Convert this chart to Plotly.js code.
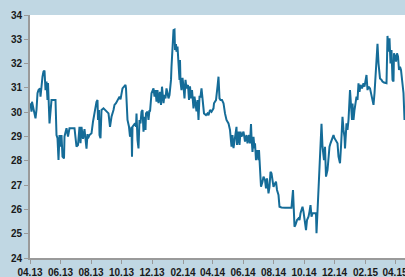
<!DOCTYPE html>
<html>
<head>
<meta charset="utf-8">
<script src="https://cdn.plot.ly/plotly-3.0.1.min.js"></script>
<style>
html,body{margin:0;padding:0;background:#c0d7e3;overflow:hidden;}
#chart{width:405px;height:277px;}
</style>
</head>
<body>
<div id="chart"></div>
<script>
const dates = [
"2013-04-02","2013-04-04","2013-04-05","2013-04-09","2013-04-12","2013-04-14","2013-04-16","2013-04-18","2013-04-21","2013-04-22",
"2013-04-24","2013-04-26","2013-04-28","2013-04-30","2013-05-02","2013-05-04","2013-05-06","2013-05-07","2013-05-09","2013-05-10",
"2013-05-12","2013-05-14","2013-05-22","2013-05-23","2013-05-24","2013-05-26","2013-05-28","2013-05-30","2013-06-01","2013-06-03",
"2013-06-05","2013-06-08","2013-06-09","2013-06-13","2013-06-16","2013-06-19","2013-06-29","2013-07-03","2013-07-06","2013-07-09",
"2013-07-11","2013-07-13","2013-07-16","2013-07-19","2013-07-23","2013-07-25","2013-07-26","2013-07-29","2013-08-02","2013-08-05",
"2013-08-08","2013-08-12","2013-08-14","2013-08-15","2013-08-17","2013-08-18","2013-08-20","2013-08-22","2013-08-26","2013-09-01",
"2013-09-05","2013-09-08","2013-09-11","2013-09-15","2013-09-17","2013-09-20","2013-09-23","2013-09-25","2013-09-27","2013-09-29",
"2013-10-01","2013-10-03","2013-10-06","2013-10-09","2013-10-10","2013-10-11","2013-10-13","2013-10-16","2013-10-18","2013-10-21",
"2013-10-22","2013-10-23","2013-10-25","2013-10-28","2013-10-30","2013-10-31","2013-11-02","2013-11-04","2013-11-06","2013-11-08",
"2013-11-10","2013-11-12","2013-11-14","2013-11-16","2013-11-18","2013-11-19","2013-11-22","2013-11-24","2013-11-26","2013-11-27",
"2013-11-30","2013-12-04","2013-12-06","2013-12-08","2013-12-10","2013-12-12","2013-12-14","2013-12-17","2013-12-19","2013-12-21",
"2013-12-24","2013-12-26","2013-12-28","2013-12-30","2014-01-01","2014-01-03","2014-01-05","2014-01-07","2014-01-08","2014-01-09",
"2014-01-11","2014-01-13","2014-01-15","2014-01-16","2014-01-18","2014-01-19","2014-01-21","2014-01-23","2014-01-25","2014-01-26",
"2014-01-27","2014-01-29","2014-01-31","2014-02-02","2014-02-04","2014-02-06","2014-02-08","2014-02-11","2014-02-13","2014-02-15",
"2014-02-17","2014-02-19","2014-02-22","2014-02-24","2014-02-26","2014-02-28","2014-03-02","2014-03-04","2014-03-06","2014-03-08",
"2014-03-10","2014-03-12","2014-03-15","2014-03-19","2014-03-22","2014-03-24","2014-03-27","2014-03-30","2014-04-03","2014-04-04",
"2014-04-06","2014-04-08","2014-04-11","2014-04-13","2014-04-15","2014-04-17","2014-04-20","2014-04-23","2014-04-26","2014-04-29",
"2014-05-03","2014-05-05","2014-05-06","2014-05-09","2014-05-11","2014-05-13","2014-05-16","2014-05-19","2014-05-20","2014-05-23",
"2014-05-25","2014-05-27","2014-05-29","2014-06-02","2014-06-05","2014-06-08","2014-06-10","2014-06-13","2014-06-15","2014-06-17",
"2014-06-18","2014-06-20","2014-06-22","2014-06-24","2014-06-25","2014-06-27","2014-06-29","2014-07-02","2014-07-03","2014-07-05",
"2014-07-07","2014-07-10","2014-07-12","2014-07-15","2014-07-17","2014-07-19","2014-07-22","2014-07-24","2014-07-26","2014-07-28",
"2014-07-30","2014-08-01","2014-08-04","2014-08-06","2014-08-08","2014-08-11","2014-08-13","2014-08-17","2014-08-24","2014-08-31",
"2014-09-06","2014-09-09","2014-09-10","2014-09-12","2014-09-14","2014-09-17","2014-09-20","2014-09-22","2014-09-24","2014-09-26",
"2014-09-28","2014-09-30","2014-10-03","2014-10-05","2014-10-07","2014-10-10","2014-10-12","2014-10-14","2014-10-16","2014-10-18",
"2014-10-20","2014-10-23","2014-10-25","2014-10-26","2014-10-28","2014-10-30","2014-11-02","2014-11-05","2014-11-07","2014-11-10",
"2014-11-12","2014-11-14","2014-11-17","2014-11-19","2014-11-21","2014-11-23","2014-11-26","2014-11-29","2014-12-01","2014-12-03",
"2014-12-05","2014-12-07","2014-12-09","2014-12-12","2014-12-14","2014-12-16","2014-12-17","2014-12-19","2014-12-21","2014-12-22",
"2014-12-24","2014-12-25","2014-12-27","2014-12-29","2015-01-01","2015-01-03","2015-01-05","2015-01-06","2015-01-08","2015-01-10",
"2015-01-12","2015-01-14","2015-01-16","2015-01-18","2015-01-20","2015-01-22","2015-01-25","2015-01-28","2015-01-30","2015-02-01",
"2015-02-03","2015-02-05","2015-02-07","2015-02-10","2015-02-12","2015-02-14","2015-02-17","2015-02-19","2015-02-21","2015-02-23",
"2015-02-25","2015-02-27","2015-03-01","2015-03-02","2015-03-05","2015-03-07","2015-03-10","2015-03-13","2015-03-15","2015-03-17",
"2015-03-19","2015-03-21","2015-03-23","2015-03-25","2015-03-27","2015-03-29","2015-03-30","2015-04-01","2015-04-03","2015-04-05",
"2015-04-07","2015-04-09","2015-04-11","2015-04-13","2015-04-15","2015-04-16","2015-04-18","2015-04-20"
];
const values = [
30.37,30.02,30.43,30.09,29.75,30.10,30.78,30.91,30.98,30.64,
31.19,31.46,31.67,31.71,30.91,31.26,30.50,31.20,30.09,29.54,
30.02,30.50,30.50,29.68,29.06,28.93,28.03,29.06,28.58,29.06,
28.17,28.10,29.00,29.34,29.00,29.34,29.34,28.58,28.65,29.40,
28.72,29.40,28.90,29.30,28.50,29.10,28.93,29.06,29.13,29.61,
30.02,30.43,30.50,29.68,30.09,29.06,28.93,30.09,30.16,30.02,
29.95,29.40,29.81,30.09,30.30,30.37,30.50,30.57,30.64,30.53,
30.71,30.98,31.05,31.12,30.98,30.23,29.68,29.40,28.99,29.40,
28.17,29.40,29.47,29.54,29.40,29.95,28.86,28.51,29.68,29.54,
30.02,30.09,29.20,29.81,29.27,29.95,30.02,29.68,30.09,30.02,
30.78,30.98,30.64,30.91,30.43,30.91,30.37,30.84,30.30,31.05,
30.37,30.71,30.57,30.98,30.78,30.57,30.71,31.12,31.33,31.87,
32.97,33.38,33.40,32.56,32.80,32.49,32.70,32.15,31.33,32.15,
31.26,30.91,31.41,31.06,30.57,31.33,30.98,31.12,30.50,31.06,
30.57,30.91,30.16,30.64,30.37,30.03,30.50,29.68,30.64,30.64,
30.98,30.50,29.95,29.88,29.95,29.88,30.09,30.02,30.16,30.37,
30.43,30.50,31.05,31.46,30.57,30.50,30.50,30.37,29.95,29.68,
29.54,29.40,29.27,28.58,29.06,28.52,29.06,29.40,28.65,29.20,
28.65,29.20,29.00,29.20,28.79,29.06,28.72,29.06,28.72,29.51,
28.99,28.37,28.99,28.51,28.72,28.03,28.44,28.03,28.44,27.55,
26.93,27.14,27.35,27.21,26.87,27.28,26.66,26.93,27.55,27.48,
27.21,26.93,27.07,27.14,26.80,26.59,26.11,26.08,26.07,26.07,
26.07,26.80,26.04,25.29,25.36,25.56,25.63,25.56,25.84,25.98,
26.11,25.91,25.50,25.15,25.56,25.70,25.91,26.18,25.70,25.84,
25.84,25.84,25.84,25.02,25.98,27.35,28.44,29.52,28.58,28.03,
28.58,27.35,27.62,28.31,28.58,28.72,28.86,29.06,28.93,28.86,
28.79,28.72,28.17,27.90,28.58,29.13,29.81,29.27,28.99,28.51,
29.20,29.54,29.27,29.68,30.91,30.36,29.68,30.36,29.68,30.09,
30.50,30.64,30.50,31.19,30.84,31.12,30.98,31.19,31.05,31.26,
31.53,30.91,31.05,30.98,30.78,30.64,30.30,30.78,31.46,32.15,
32.81,32.01,31.60,31.39,31.33,31.26,31.22,31.19,31.19,33.14,
32.49,33.04,32.01,32.56,31.33,31.26,32.42,32.29,32.08,32.42,
32.29,31.74,31.87,31.74,31.33,31.19,30.78,29.68
];
const yTicks = [24,25,26,27,28,29,30,31,32,33,34];

const trace = {
  x: dates, y: values, type: 'scatter', mode: 'lines',
  line: {color: '#156c98', width: 2}, hoverinfo: 'skip'
};
const tickFont = {family: 'Liberation Sans, Arial, sans-serif', size: 10, color: '#1a1a1a', weight: 'bold'};
const layout = {
  width: 405, height: 277,
  margin: {l: 30, r: 0, t: 15, b: 19, pad: 0},
  paper_bgcolor: '#c0d7e3', plot_bgcolor: '#ffffff',
  showlegend: false,
  xaxis: {
    type: 'date', range: ['2013-04-01', '2015-04-21'],
    tick0: '2013-04-01', dtick: 'M2', tickformat: '%m.%y',
    ticks: 'outside', ticklen: 4, tickcolor: '#9a9a9a', tickwidth: 1,
    showline: true, linecolor: '#9a9a9a', linewidth: 2,
    showgrid: false, zeroline: false, tickfont: tickFont,
    ticklabeloverflow: 'allow'
  },
  yaxis: {
    range: [24, 34], tickvals: yTicks,
    ticks: 'outside', ticklen: 4, tickcolor: '#9a9a9a', tickwidth: 1,
    showline: true, linecolor: '#9a9a9a', linewidth: 2,
    showgrid: false, zeroline: false, tickfont: tickFont
  }
};
Plotly.newPlot('chart', [trace], layout, {staticPlot: true, displayModeBar: false});
</script>
</body>
</html>
